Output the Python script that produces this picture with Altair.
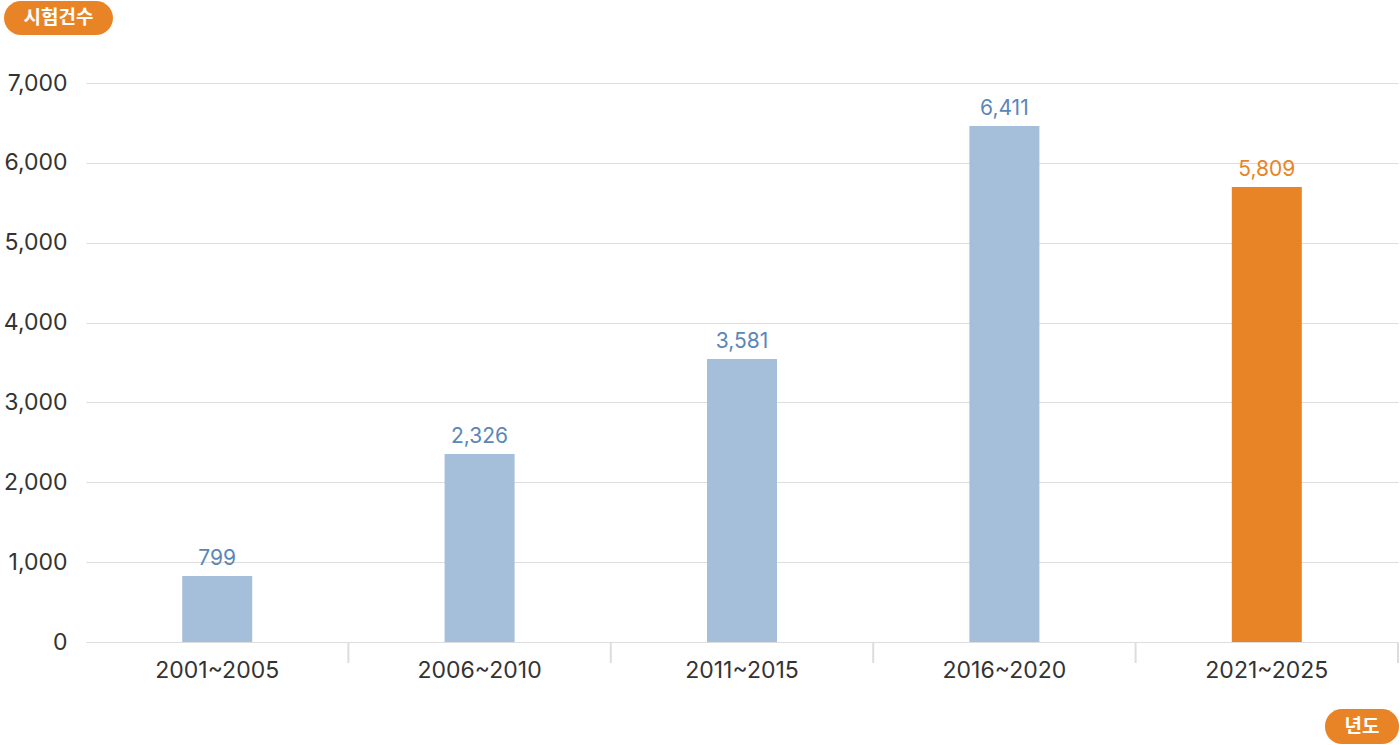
import altair as alt
import pandas as pd

periods = ["2001~2005", "2006~2010", "2011~2015", "2016~2020", "2021~2025"]
bar_heights = [826, 2354, 3544, 6461, 5697]          # bar tops as drawn in the picture
value_labels = ["799", "2,326", "3,581", "6,411", "5,809"]  # printed values
highlight = [False, False, False, False, True]
y_ticks = [0, 1000, 2000, 3000, 4000, 5000, 6000, 7000]

y_badge = "시험건수"
x_badge = "년도"

ORANGE = "#E98426"
BLUE_BAR = "#A5BFDB"
BLUE_TXT = "#5A86B8"
GRID = "#DDDDDD"
TXT = "#333333"
FONT = "Inter, Noto Sans CJK KR, sans-serif"

df = pd.DataFrame({
    "period": periods,
    "height": bar_heights,
    "label": value_labels,
    "hl": highlight,
})

W, H = 1312, 559

x_enc = alt.X("period:N", sort=periods,
              scale=alt.Scale(paddingInner=0, paddingOuter=0),
              axis=alt.Axis(title=None, labelFontSize=23, labelColor=TXT, labelFont=FONT,
                            labelPadding=17, ticks=False, domainColor=GRID, domainWidth=1,
                            labelAngle=0, grid=False))
y_enc = alt.Y("height:Q", scale=alt.Scale(domain=[0, 7000], nice=False),
              axis=alt.Axis(title=None, values=y_ticks, format=",d", labelFontSize=23,
                            labelColor=TXT, labelFont=FONT, labelPadding=19, ticks=False,
                            domain=False, gridColor=GRID, gridWidth=1))

base = alt.Chart(df)

bars = base.mark_bar(size=70).encode(
    x=x_enc,
    y=y_enc,
    color=alt.condition(alt.datum.hl, alt.value(ORANGE), alt.value(BLUE_BAR)),
)

texts = base.mark_text(baseline="alphabetic", dy=-11, fontSize=21, font=FONT).encode(
    x=alt.X("period:N", sort=periods),
    y="height:Q",
    text="label:N",
    color=alt.condition(alt.datum.hl, alt.value(ORANGE), alt.value(BLUE_TXT)),
)

ticks = base.mark_rule(color=GRID, strokeWidth=2).encode(
    x=alt.X("period:N", sort=periods, bandPosition=1),
    y=alt.value(H + 1),
    y2=alt.value(H + 21),
)

badge1 = alt.Chart(pd.DataFrame({"t": [y_badge]})).mark_rect(
    color=ORANGE, cornerRadius=17).encode(
    x=alt.value(-82), x2=alt.value(27), y=alt.value(-82), y2=alt.value(-48))
badge1_t = alt.Chart(pd.DataFrame({"t": [y_badge]})).mark_text(
    color="white", fontSize=19, fontWeight="bold", font=FONT, baseline="middle",
    align="center").encode(x=alt.value(-27.5), y=alt.value(-65), text="t:N")

badge2 = alt.Chart(pd.DataFrame({"t": [x_badge]})).mark_rect(
    color=ORANGE, cornerRadius=17).encode(
    x=alt.value(1239), x2=alt.value(1313), y=alt.value(626), y2=alt.value(661))
badge2_t = alt.Chart(pd.DataFrame({"t": [x_badge]})).mark_text(
    color="white", fontSize=19, fontWeight="bold", font=FONT, baseline="middle",
    align="center").encode(x=alt.value(1276), y=alt.value(644), text="t:N")

chart = alt.layer(bars, texts, ticks, badge1, badge1_t, badge2, badge2_t).properties(
    width=W, height=H,
    autosize=alt.AutoSizeParams(type="none"),
    padding={"left": 86, "top": 83, "right": 2, "bottom": 103},
    background="white",
).configure_view(stroke=None)

chart.save("out.html", embed_options={"renderer": "svg", "actions": False})
